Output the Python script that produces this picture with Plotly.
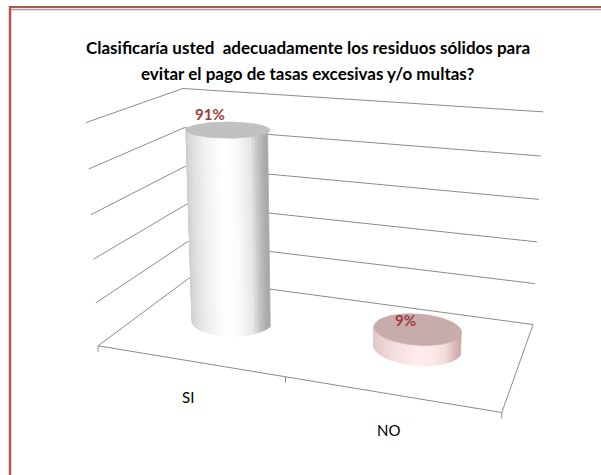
import numpy as np
import plotly.graph_objects as go

W, H = 601, 475

# ---- chart data -------------------------------------------------------
categories = ["SI", "NO"]
values = [0.91, 0.09]
value_labels = ["91%", "9%"]
grid_values = [0.0, 0.2, 0.4, 0.6, 0.8, 1.0]
title_lines = [
    "Clasificaría usted  adecuadamente los residuos sólidos para",
    "evitar el pago de tasas excesivas y/o multas?",
]

# ---- styling ------------------------------------------------------------
side_dark = [(152, 152, 152), (196, 158, 158)]
side_light = [(255, 255, 255), (255, 236, 236)]
top_face = ["rgb(192,192,192)", "rgb(200,172,172)"]
label_red = "#9E3B3B"
grid_color = "rgb(140,140,140)"
frame_red = "#C0504D"
FONT = "Lato, Roboto, sans-serif"

# ---- perspective camera -------------------------------------------------
# plot box: x spans the categories (0..1), y the value (0..1), z the depth (0 front, 1 back)
BOX_WORLD = np.array([
    (0, 0, 0), (1, 0, 0), (1, 0, 1), (0, 0, 1),
    (0, 1, 1), (0, 1, 0), (1, 1, 1),
], float)
BOX_SCREEN = np.array([
    (98, 345), (502, 413), (533, 324), (189, 279),
    (183, 88), (86, 123), (543, 112),
], float)


def fit_camera(world, screen):
    rows = []
    for (X, Y, Z), (u, v) in zip(world, screen):
        rows.append([X, Y, Z, 1, 0, 0, 0, 0, -u * X, -u * Y, -u * Z, -u])
        rows.append([0, 0, 0, 0, X, Y, Z, 1, -v * X, -v * Y, -v * Z, -v])
    _, _, vt = np.linalg.svd(np.array(rows, float))
    return vt[-1].reshape(3, 4)


CAM = fit_camera(BOX_WORLD, BOX_SCREEN)


def project(x, y, z):
    x, y, z = np.broadcast_arrays(np.asarray(x, float), np.asarray(y, float),
                                  np.asarray(z, float))
    pts = np.vstack([x.ravel(), y.ravel(), z.ravel(), np.ones(x.size)])
    p = CAM @ pts
    return p[0] / p[2], p[1] / p[2]


fig = go.Figure()


def add_line(xs, ys, color=grid_color, width=1.0):
    fig.add_trace(go.Scatter(x=list(xs), y=list(ys), mode="lines",
                             line=dict(color=color, width=width),
                             hoverinfo="skip", showlegend=False))


# ---- walls: value gridlines on the left and back walls ------------------
for g in grid_values:
    u, v = project([0, 0, 1], [g, g, g], [0, 1, 1])
    add_line(u, v)

# floor outline and category ticks
u, v = project([0, 1, 1], [0, 0, 0], [0, 0, 1])
add_line(u, v)
n = len(categories)
for k in range(n + 1):
    tu, tv = project(k / n, 0, 0)
    add_line([tu[0], tu[0]], [tv[0], tv[0] + 6])

# ---- cylinders ------------------------------------------------------------
RX, RZ, CZ = 0.108, 0.19, 0.51
profile_t = [0.0, 0.15, 0.4, 0.62, 0.78, 0.9, 1.0]
profile_s = [0.45, 0.62, 0.85, 1.0, 0.95, 0.75, 0.15]


def shade(t, i):
    s = np.interp(t, profile_t, profile_s)
    d, l = side_dark[i], side_light[i]
    c = [round(d[k] + (l[k] - d[k]) * s) for k in range(3)]
    return f"rgb({c[0]},{c[1]},{c[2]})"


NSTRIP = 36
for i, (cat, val) in enumerate(zip(categories, values)):
    cx = (i + 0.5) / n
    thetas = np.linspace(np.pi, 0, NSTRIP + 1)  # left edge to right edge, front half
    for a, b in zip(thetas[:-1], thetas[1:]):
        xs = cx + RX * np.cos([a, b, b, a, a])
        zs = CZ - RZ * np.sin([a, b, b, a, a])
        ys = [0, 0, val, val, 0]
        u, v = project(xs, ys, zs)
        t = (1 + np.cos((a + b) / 2)) / 2
        col = shade(t, i)
        fig.add_trace(go.Scatter(x=u, y=v, mode="lines", fill="toself",
                                 fillcolor=col, line=dict(color=col, width=0.8),
                                 hoverinfo="skip", showlegend=False))
    # top face
    ang = np.linspace(0, 2 * np.pi, 73)
    u, v = project(cx + RX * np.cos(ang), np.full(ang.size, val), CZ + RZ * np.sin(ang))
    fig.add_trace(go.Scatter(x=u, y=v, mode="lines", fill="toself",
                             fillcolor=top_face[i],
                             line=dict(color=top_face[i], width=0.6),
                             hoverinfo="skip", showlegend=False))

# ---- text ---------------------------------------------------------------------
annotations = []
for i, (cat, val, lab) in enumerate(zip(categories, values, value_labels)):
    cx = (i + 0.5) / n
    lu, lv = project(cx, val, CZ - RZ)
    annotations.append(dict(x=lu[0], y=lv[0], text=f"<b>{lab}</b>", showarrow=False,
                            xshift=-2, yshift=24,
                            font=dict(family=FONT, size=15, color=label_red)))
    cu, cv = project(cx, 0, 0)
    annotations.append(dict(x=cu[0], y=cv[0], text=cat, showarrow=False,
                            xshift=-1, yshift=-36,
                            font=dict(family=FONT, size=15, color="black")))

for k, line in enumerate(title_lines):
    annotations.append(dict(x=308, y=47 + 26 * k, text=f"<b>{line}</b>", showarrow=False,
                            font=dict(family=FONT, size=17, color="black")))

# ---- frame ----------------------------------------------------------------------
shapes = [
    dict(type="line", x0=9, x1=W, y0=9.5, y1=9.5, line=dict(color="#A0A0A0", width=1.5)),
    dict(type="line", x0=9, x1=W, y0=7, y1=7, line=dict(color=frame_red, width=2)),
    dict(type="line", x0=10, x1=10, y0=6, y1=H, line=dict(color=frame_red, width=2.5)),
]

fig.update_layout(
    width=W, height=H,
    margin=dict(l=0, r=0, t=0, b=0),
    paper_bgcolor="white", plot_bgcolor="white",
    xaxis=dict(range=[0, W], visible=False, fixedrange=True),
    yaxis=dict(range=[H, 0], visible=False, fixedrange=True),
    annotations=annotations,
    shapes=shapes,
    showlegend=False,
)

fig.write_html("out.html")
